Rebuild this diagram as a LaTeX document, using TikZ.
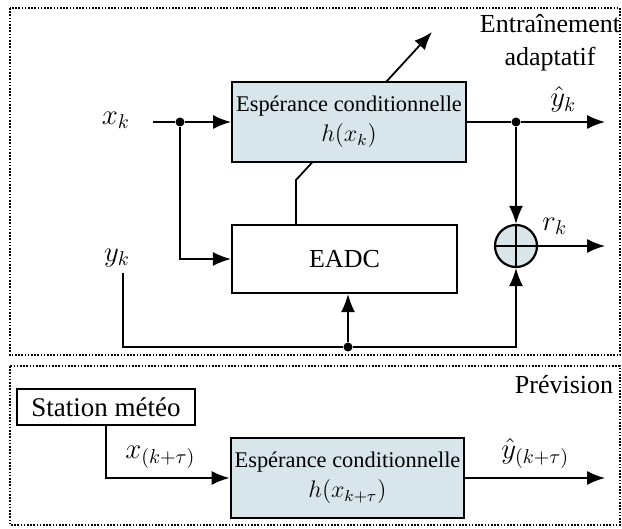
\documentclass[tikz,border=0pt]{standalone}
\usepackage{fontspec}
\setmainfont{Liberation Serif}
\usetikzlibrary{arrows.meta,positioning,backgrounds,calc}
\definecolor{bleugris}{RGB}{216,230,235}

\begin{document}
\begin{tikzpicture}[x=0.5pt, y=-0.5pt, line width=0.8pt,
    >={Latex[length=9pt,width=7pt]},
    bloc/.style={draw, line width=1.1pt, inner sep=2pt, align=center, font=\fontsize{11.2}{15}\selectfont},
    esper/.style={bloc, fill=bleugris, minimum width=116pt, minimum height=40pt},
    somme/.style={draw, line width=1.1pt, circle, fill=bleugris, minimum size=21pt, inner sep=0pt},
    point/.style={circle, fill=black, inner sep=0pt, minimum size=4.5pt},
    cadre/.style={line width=0.8pt, dash pattern=on 0.8pt off 0.8pt},
    titre/.style={font=\fontsize{13}{16.5}\selectfont},
    lbl/.style={font=\fontsize{14}{15}\selectfont}]
    \useasboundingbox (0,0) rectangle (622,529);

    % cadres
    \draw[cadre] (10,8) rectangle (620,355);
    \draw[cadre] (10,366) rectangle (620,525);
    \node[titre, align=center] (titre1) at (550,43) {Entraînement\\adaptatif};
    \node[titre] (titre2) at (564,385) {Prévision};

    % Entrainement adaptatif
    \node[esper] (esp1) at (349,122) {Espérance conditionnelle\\ {\large $h(x_k)$}};
    \node[bloc, minimum width=112.5pt, minimum height=34pt, font=\fontsize{13}{15}\selectfont] (eadc) at (344.5,259) {EADC};
    \node[somme] (sum) at (516,246) {};
    \draw (sum.north) -- (sum.south);
    \draw (sum.west) -- (sum.east);

    \node[lbl] (xk) at (116,120) {$x_k$};
    \node[lbl] (yk) at (117,258) {$y_k$};
    \coordinate (in1) at (153,122);
    \node[point] (d1) at (180,122) {};
    \node[point] (d2) at (516,122) {};
    \node[point] (d3) at (348,347) {};
    \coordinate (out1) at (605,122);
    \coordinate (out2) at (605,246);
    \coordinate (yk0) at (123,273);

    \draw (in1) -- (d1);
    \draw[->] (d1) -- (esp1.west);
    \draw[->] (d1) |- (eadc.west);
    \draw (esp1.east) -- (d2);
    \draw[->] (d2) -- (out1) node [midway, above=1pt, lbl] {$\hat{y}_k$};
    \draw[->] (d2) -- (sum.north);
    \draw[->] (sum.east) -- (out2) node [pos=0.25, above=2pt, lbl] {$r_k$};
    \draw (yk0) |- (d3);
    \draw[->] (d3) -| (sum.south);
    \draw[->] (d3) -- (d3 |- eadc.south);

    % adaptation (passe sous le bloc)
    \coordinate (k1) at (296,180);
    \coordinate (tip) at (432,32);
    \begin{scope}[on background layer]
        \draw[->, line width=0.9pt] (eadc.north -| k1) -- (k1) -- (tip);
    \end{scope}

    % Prevision
    \node[bloc, minimum width=89pt, minimum height=18pt, font=\fontsize{13.5}{15}\selectfont] (station) at (106,407) {Station météo};
    \node[esper] (esp2) at (347.5,478) {Espérance conditionnelle\\ {\large $h(x_{k+\tau})$}};
    \coordinate (out3) at (605,478);

    \draw[->] (station.south) |- (esp2.west) node [pos=0.72, above=1pt, lbl] {$x_{(k+\tau)}$};
    \draw[->] (esp2.east) -- (out3) node [midway, above=1pt, lbl] {$\hat{y}_{(k+\tau)}$};
\end{tikzpicture}
\end{document}
